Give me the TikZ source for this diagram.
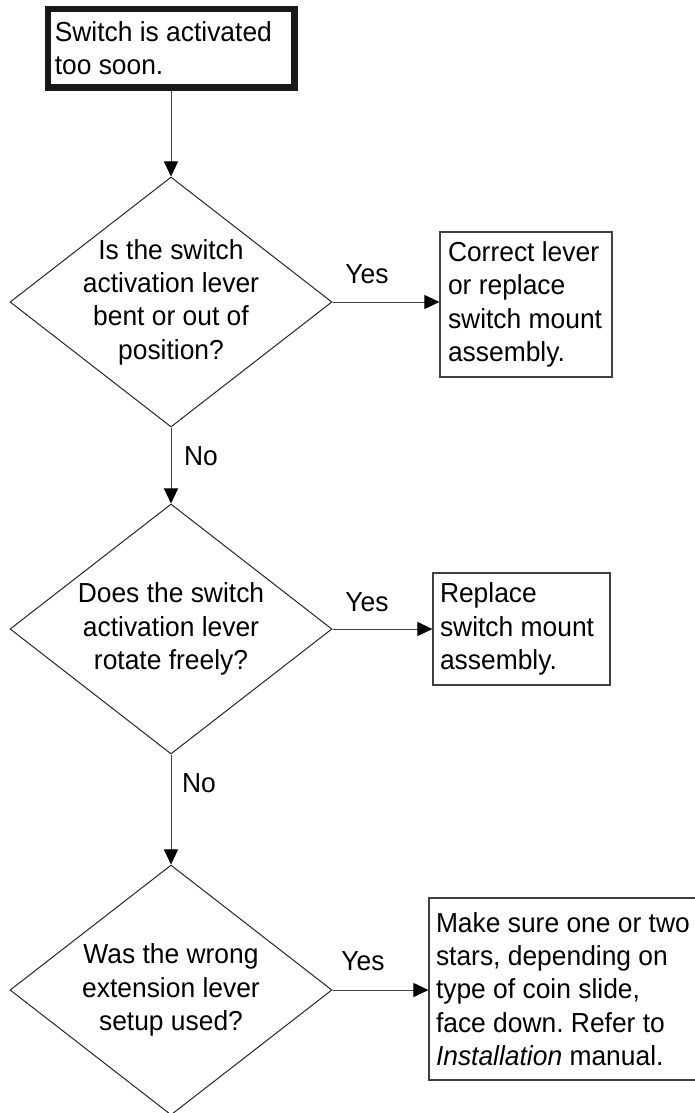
\documentclass[tikz,border=0pt]{standalone}
\usepackage{fontspec}
\setmainfont{Liberation Sans}[FakeStretch=0.96]
\usepackage{tikz}
\usetikzlibrary{arrows.meta}
\usetikzlibrary{shapes,shapes.geometric}
\tikzset{>={Triangle[length=15pt,width=14pt,color=black]}}
\frenchspacing
\newcommand{\flowfont}{\fontsize{27.5}{33.3}\selectfont}
\tikzset{
  question/.style={shape=diamond, draw=black!85, line width=1pt, minimum width=322pt,
    minimum height=250pt, inner sep=-30pt, align=flush center, font=\flowfont},
  action/.style={shape=rectangle, draw=black!75, line width=1.2pt, align=flush left,
    inner xsep=7pt, inner ysep=0pt, font=\flowfont},
  answer/.style={font=\flowfont, inner sep=0pt, anchor=base},
  flow/.style={->, draw=black!75, line width=1pt}
}

\begin{document}
\begin{tikzpicture}[x=1pt, y=-1pt]
        \useasboundingbox (0,0) rectangle (694,1113);
        % Start
        \node[action, draw=black!90, line width=6.5pt, text width=232.5pt, minimum height=78.5pt] (start) at (171,48.5) {Switch is activated\\too soon.};
        % Questions
        \node[question] (bent) at (171,302) {Is the switch\\activation lever\\bent or out of\\position?};
        \node[question] (rotate) at (171,629) {Does the switch\\activation lever\\rotate freely?};
        \node[question] (wrong) at (171,990) {Was the wrong\\extension lever\\setup used?};
        % Actions
        \node[action, inner xsep=8pt, text width=156pt, minimum height=145pt] (correct) at (526,304.5) {Correct lever\\or replace\\switch mount\\assembly.};
        \node[action, text width=163pt, minimum height=112pt] (replace) at (521.5,629) {Replace\\switch mount\\assembly.};
        \node[action, text width=280pt, minimum height=182pt] (stars) at (576,989) {Make sure one or two\\stars, depending on\\type of coin slide,\\face down. Refer to\\\textit{Installation} manual.};
        % Arrows
        \draw[flow] (start) -- (bent);
        \draw[flow] (bent) -- (rotate);
        \draw[flow] (rotate) -- (wrong);
        \draw[flow] (bent.east) -- (bent.east -| correct.west);
        \draw[flow] (rotate.east) -- (rotate.east -| replace.west);
        \draw[flow] (wrong.east) -- (wrong.east -| stars.west);
        % Answers
        \node[answer] (yesbent) at (367,283) {Yes};
        \node[answer] (yesrotate) at (367,611) {Yes};
        \node[answer] (yeswrong) at (363,970) {Yes};
        \node[answer] (nobent) at (201,465) {No};
        \node[answer] (norotate) at (199,792) {No};
      \end{tikzpicture}
\end{document}
